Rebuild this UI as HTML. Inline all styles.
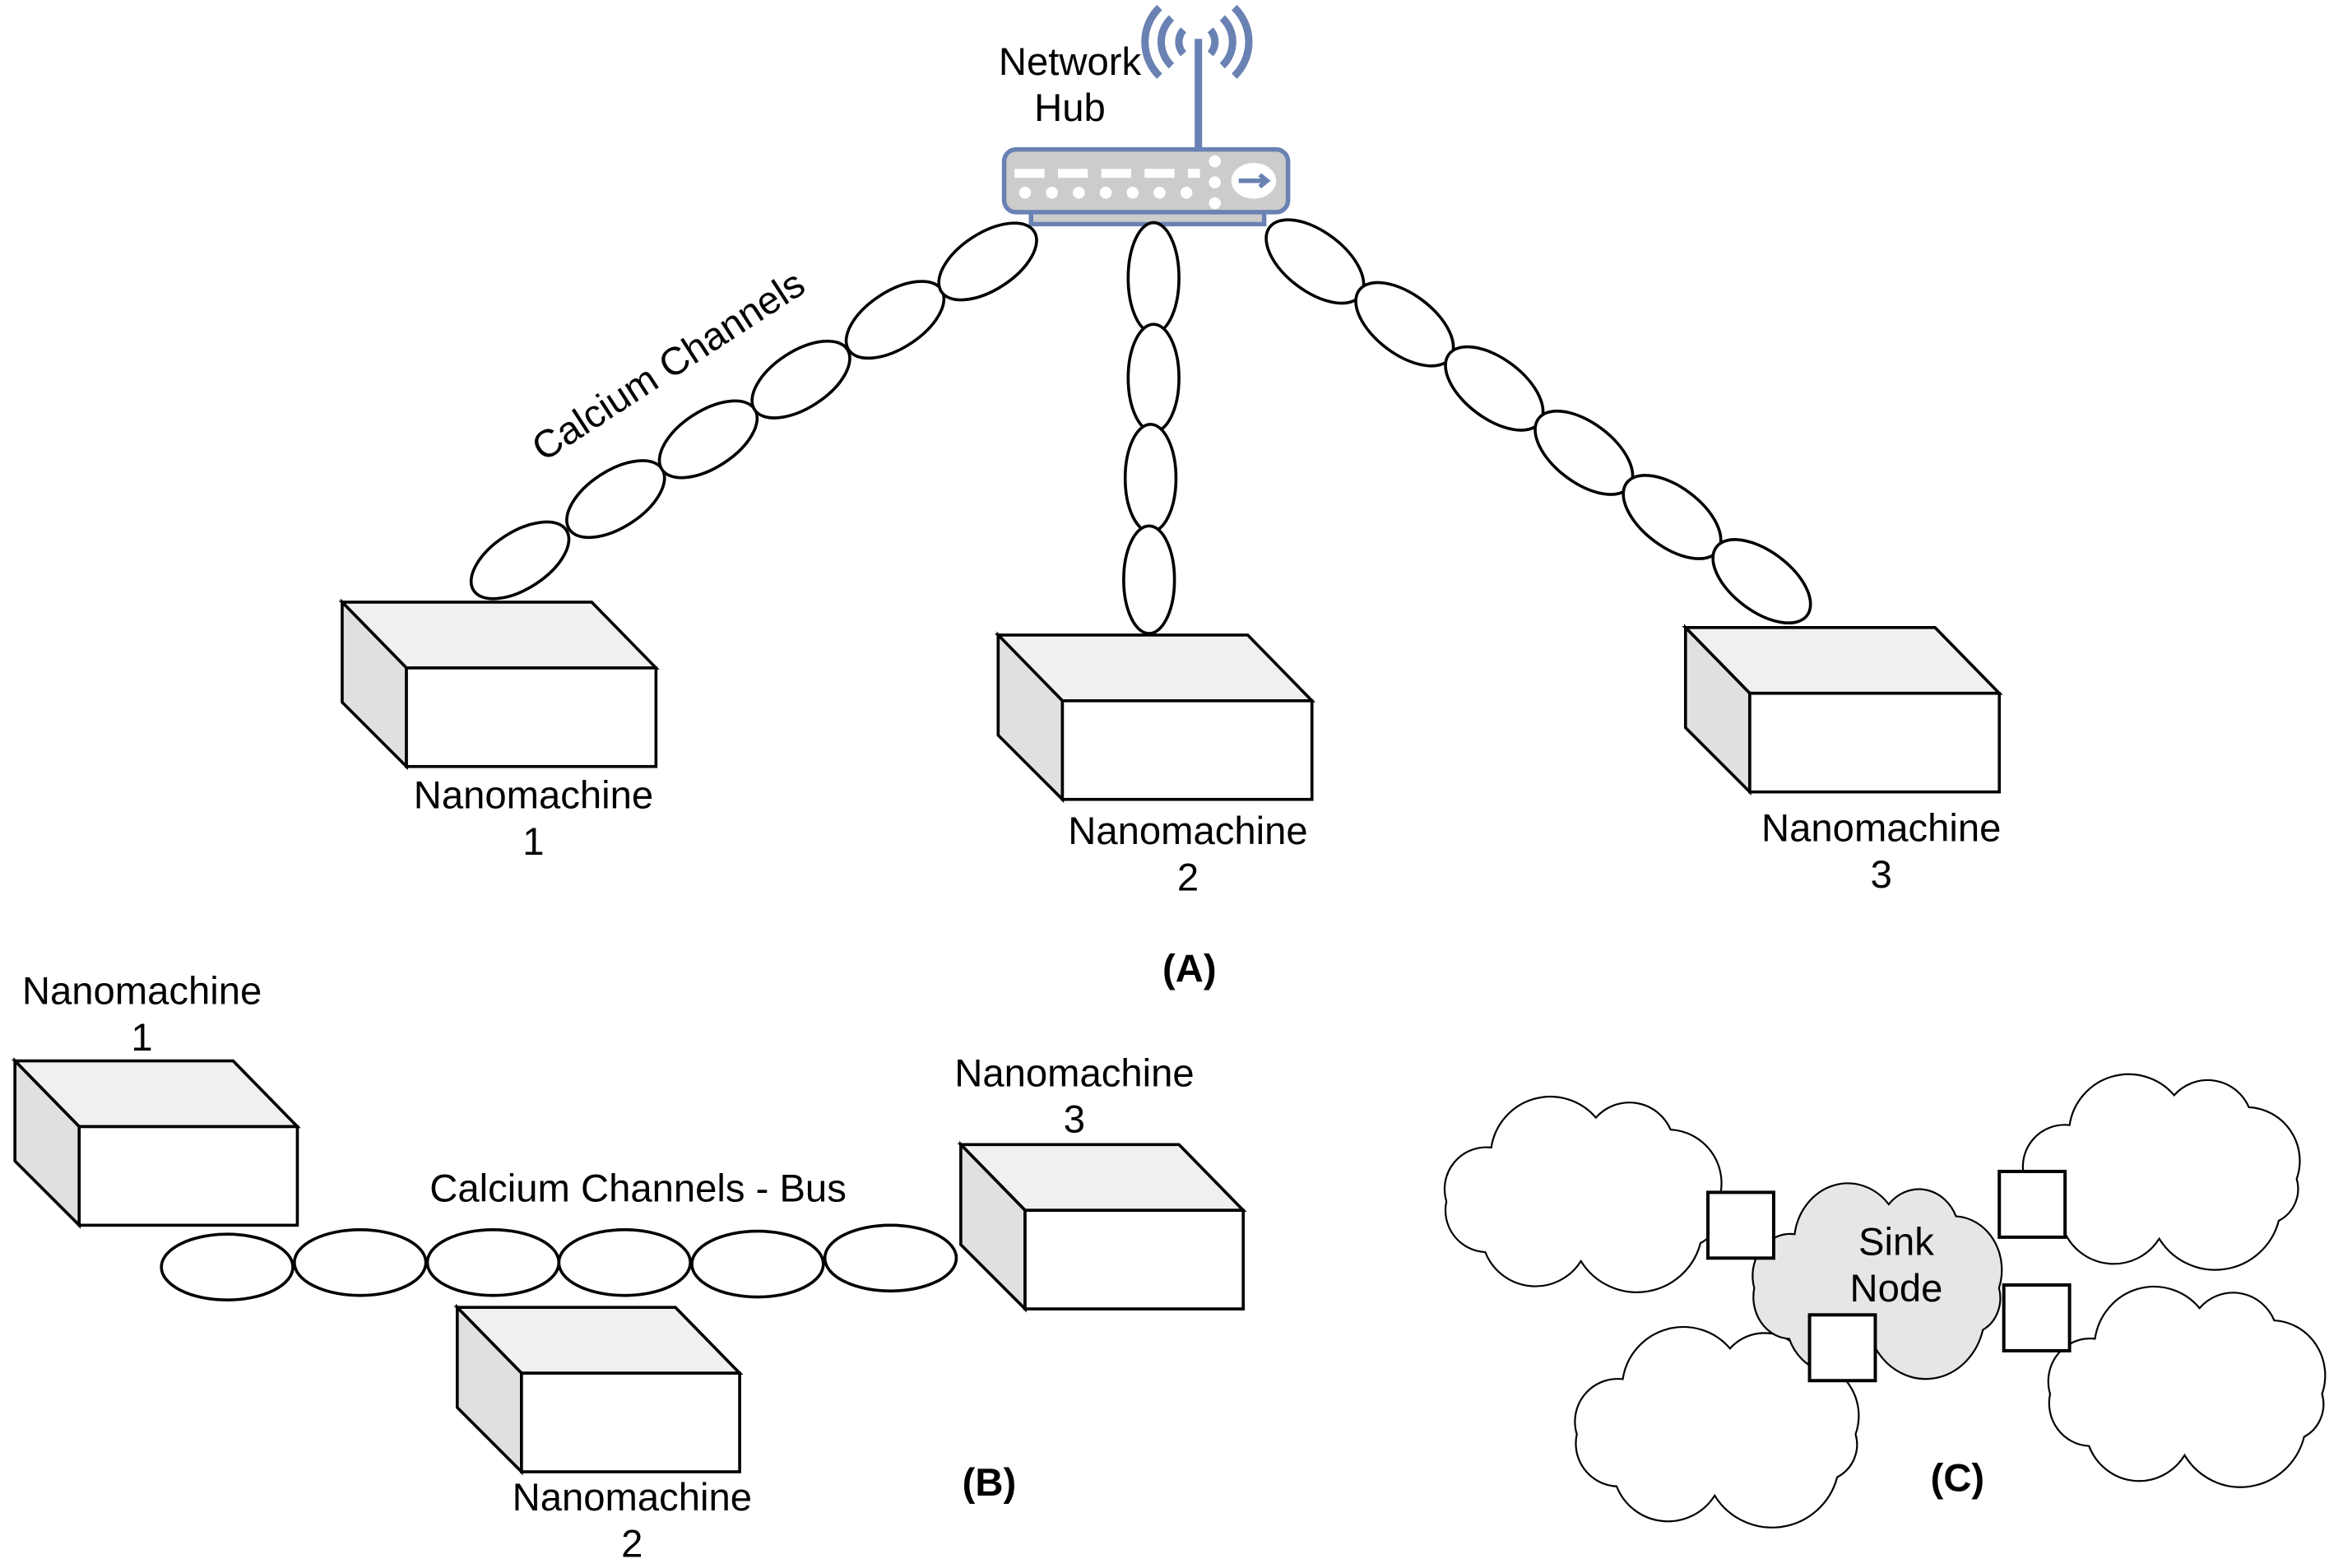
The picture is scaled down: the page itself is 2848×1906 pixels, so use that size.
<!DOCTYPE html>
<html><head><meta charset="utf-8"><style>
html,body{margin:0;padding:0;background:#fff}
svg{display:block}
text{font-family:"Liberation Sans",sans-serif;font-size:26px;fill:#000}
</style></head><body>
<svg width="2848" height="1906" viewBox="0 0 1568 1049.4" preserveAspectRatio="none" xmlns="http://www.w3.org/2000/svg">
<defs>
<g id="cube" stroke="#000" stroke-width="2" stroke-linejoin="miter">
<polygon points="0,0 167,0 210,44 43,44" fill="#f0f0f0"/>
<polygon points="0,0 43,44 43,110 0,67" fill="#e0e0e0"/>
<rect x="43" y="44" width="167" height="66" fill="#fff"/>
</g>
<g id="cubeb" stroke="#000" stroke-width="2" stroke-linejoin="miter">
<polygon points="0,0 146,0 189,44 43,44" fill="#f0f0f0"/>
<polygon points="0,0 43,44 43,110 0,67" fill="#e0e0e0"/>
<rect x="43" y="44" width="146" height="66" fill="#fff"/>
</g>
<path id="cl" d="M20,20 A20,20 0 0 1 55,10 A15,15 0 0 1 80,14 A18,18 0 0 1 96,38 A12,12 0 0 1 90,52 A22,22 0 0 1 50,58 A18,18 0 0 1 18,55 A14,14 0 0 1 5,38 A14,14 0 0 1 20,20 Z" vector-effect="non-scaling-stroke"/>
</defs>

<!-- Hub -->
<g stroke="#6a82b3" fill="none" stroke-width="5">
<path d="M792,20 A12,12 0 0 0 792,36"/>
<path d="M784,12 A22,22 0 0 0 784,44"/>
<path d="M776,5 A32,32 0 0 0 776,51"/>
<path d="M810,20 A12,12 0 0 1 810,36"/>
<path d="M818,12 A22,22 0 0 1 818,44"/>
<path d="M826,5 A32,32 0 0 1 826,51"/>
</g>
<line x1="802" y1="26" x2="802" y2="100" stroke="#6a82b3" stroke-width="5"/>
<rect x="690" y="140" width="156" height="10" fill="#ccc" stroke="#6a82b3" stroke-width="3"/>
<rect x="672" y="100" width="190" height="42" rx="8" fill="#ccc" stroke="#6a82b3" stroke-width="3"/>
<g fill="#fff">
<rect x="679" y="113" width="20" height="6"/><rect x="708" y="113" width="20" height="6"/><rect x="737" y="113" width="20" height="6"/><rect x="766" y="113" width="20" height="6"/><rect x="795" y="113" width="8" height="6"/>
<circle cx="686" cy="129" r="4"/><circle cx="704" cy="129" r="4"/><circle cx="722" cy="129" r="4"/><circle cx="740" cy="129" r="4"/><circle cx="758" cy="129" r="4"/><circle cx="776" cy="129" r="4"/><circle cx="794" cy="129" r="4"/>
<circle cx="813" cy="108" r="4"/><circle cx="813" cy="122" r="4"/><circle cx="813" cy="136" r="4"/>
<ellipse cx="839" cy="121" rx="15" ry="12"/>
</g>
<path d="M829,121 H846 M843,117 L848,121 L843,125" stroke="#6a82b3" stroke-width="3" fill="none"/>
<text x="716" y="50" text-anchor="middle">Network</text>
<text x="716" y="81" text-anchor="middle">Hub</text>

<!-- A chains -->
<g fill="#fff" stroke="#000" stroke-width="2">
<ellipse cx="348" cy="375" rx="37" ry="19" transform="rotate(-33 348 375)"/>
<ellipse cx="412" cy="334" rx="37" ry="19" transform="rotate(-33 412 334)"/>
<ellipse cx="474" cy="294" rx="37" ry="19" transform="rotate(-33 474 294)"/>
<ellipse cx="536" cy="254" rx="37" ry="19" transform="rotate(-33 536 254)"/>
<ellipse cx="599" cy="214" rx="37" ry="19" transform="rotate(-33 599 214)"/>
<ellipse cx="661" cy="175" rx="37" ry="19" transform="rotate(-33 661 175)"/>
<ellipse cx="772" cy="186" rx="17" ry="37"/>
<ellipse cx="772" cy="253" rx="17" ry="36"/>
<ellipse cx="770" cy="320" rx="17" ry="36"/>
<ellipse cx="769" cy="388" rx="17" ry="36"/>
<ellipse cx="880" cy="175" rx="38" ry="20" transform="rotate(37 880 175)"/>
<ellipse cx="940" cy="217" rx="38" ry="20" transform="rotate(37 940 217)"/>
<ellipse cx="1000" cy="260" rx="38" ry="20" transform="rotate(37 1000 260)"/>
<ellipse cx="1060" cy="303" rx="38" ry="20" transform="rotate(37 1060 303)"/>
<ellipse cx="1119" cy="346" rx="38" ry="20" transform="rotate(37 1119 346)"/>
<ellipse cx="1179" cy="389" rx="38" ry="20" transform="rotate(37 1179 389)"/>
</g>
<text transform="translate(452,252) rotate(-33)" text-anchor="middle">Calcium Channels</text>

<use href="#cube" x="229" y="403"/>
<use href="#cube" x="668" y="425"/>
<use href="#cube" x="1128" y="420"/>
<text x="357" y="541" text-anchor="middle">Nanomachine</text><text x="357" y="572" text-anchor="middle">1</text>
<text x="795" y="565" text-anchor="middle">Nanomachine</text><text x="795" y="596" text-anchor="middle">2</text>
<text x="1259" y="563" text-anchor="middle">Nanomachine</text><text x="1259" y="594" text-anchor="middle">3</text>
<text x="796" y="657" text-anchor="middle" font-weight="bold">(A)</text>

<!-- B -->
<use href="#cubeb" x="10" y="710"/>
<use href="#cubeb" x="643" y="766"/>
<g fill="#fff" stroke="#000" stroke-width="2">
<ellipse cx="152" cy="848" rx="44" ry="22"/>
<ellipse cx="241" cy="845" rx="44" ry="22"/>
<ellipse cx="330" cy="845" rx="44" ry="22"/>
<ellipse cx="418" cy="845" rx="44" ry="22"/>
<ellipse cx="507" cy="846" rx="44" ry="22"/>
<ellipse cx="596" cy="842" rx="44" ry="22"/>
</g>
<use href="#cubeb" x="306" y="875"/>
<text x="95" y="672" text-anchor="middle">Nanomachine</text><text x="95" y="703" text-anchor="middle">1</text>
<text x="719" y="727" text-anchor="middle">Nanomachine</text><text x="719" y="758" text-anchor="middle">3</text>
<text x="427" y="804" text-anchor="middle">Calcium Channels - Bus</text>
<text x="423" y="1011" text-anchor="middle">Nanomachine</text><text x="423" y="1042" text-anchor="middle">2</text>
<text x="662" y="1001" text-anchor="middle" font-weight="bold">(B)</text>

<!-- C -->
<g stroke="#000" stroke-width="2.2" fill="#fff">
<use href="#cl" transform="translate(958,728) scale(2.0,2.0)"/>
<use href="#cl" transform="translate(1345,713) scale(2.0,2.0)"/>
<use href="#cl" transform="translate(1045,882) scale(2.05,2.05)"/>
<use href="#cl" transform="translate(1362,855) scale(2.0,2.05)"/>
<use href="#cl" transform="translate(1165,786) scale(1.8,2.0)" fill="#e6e6e6"/>
<rect x="1143" y="798" width="44" height="44"/>
<rect x="1338" y="784" width="44" height="44"/>
<rect x="1211" y="880" width="44" height="44"/>
<rect x="1341" y="860" width="44" height="44"/>
</g>
<text x="1269" y="840" text-anchor="middle">Sink</text>
<text x="1269" y="871" text-anchor="middle">Node</text>
<text x="1310" y="998" text-anchor="middle" font-weight="bold">(C)</text>
</svg>
</body></html>
